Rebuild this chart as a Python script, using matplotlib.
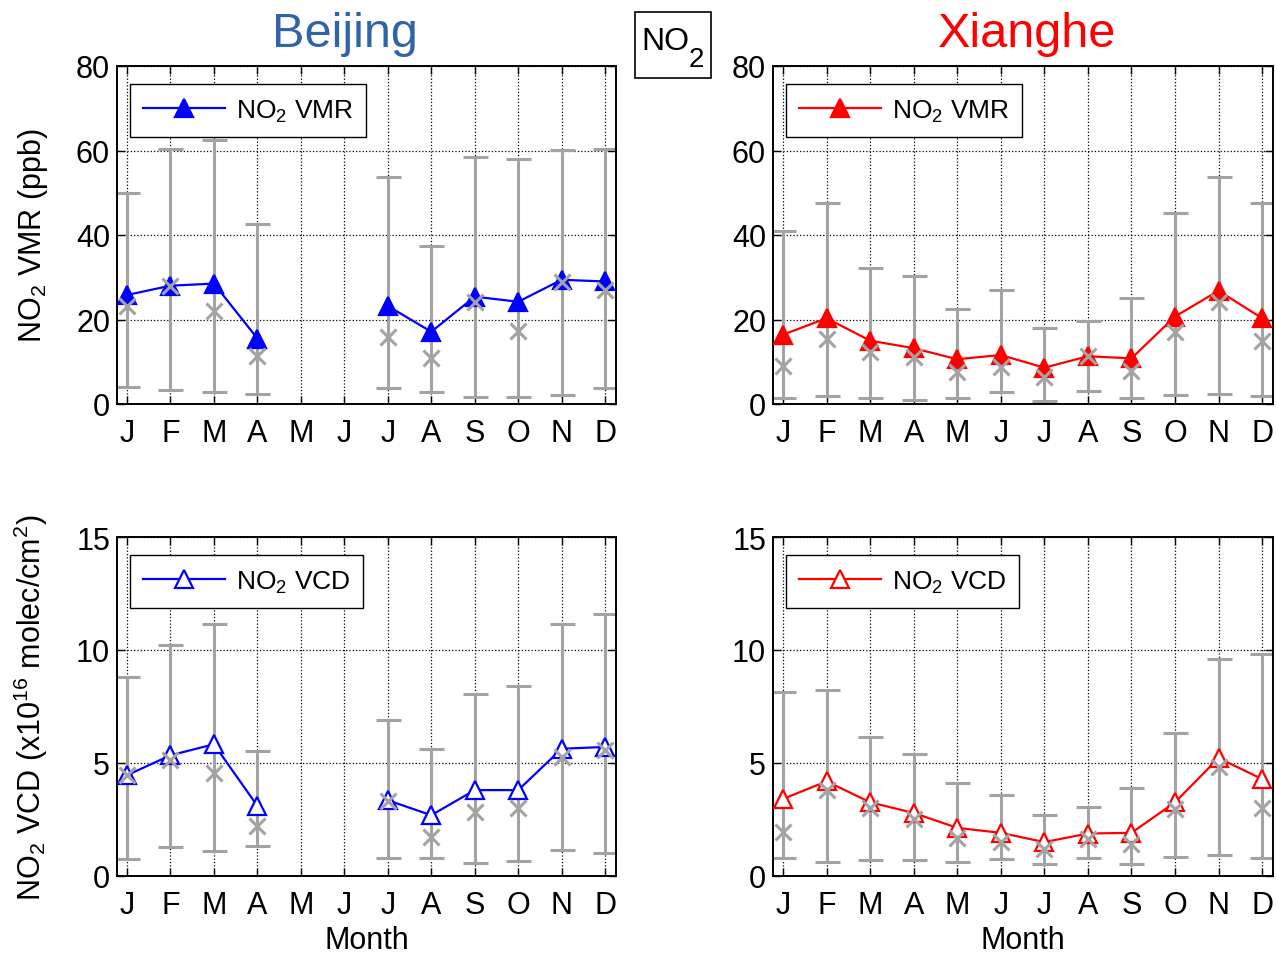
import matplotlib.pyplot as plt
from matplotlib.patches import Rectangle
import numpy as np

plt.rcParams['font.family'] = ['Liberation Sans', 'DejaVu Sans']
plt.rcParams['mathtext.fontset'] = 'custom'
plt.rcParams['mathtext.rm'] = 'Liberation Sans'

months = np.arange(1, 13)
month_labels = ['J', 'F', 'M', 'A', 'M', 'J', 'J', 'A', 'S', 'O', 'N', 'D']
nan = np.nan

# Beijing NO2 VMR (ppb)
bj_vmr = [25.8, 28.0, 28.5, 15.5, nan, nan, 23.2, 17.1, 25.4, 24.2, 29.4, 29.0]
bj_vmr_med = [23.2, 28.0, 21.9, 11.3, nan, nan, 15.9, 10.9, 24.2, 17.3, 28.8, 27.0]
bj_vmr_hi = [49.9, 60.4, 62.6, 42.7, nan, nan, 53.7, 37.5, 58.4, 57.9, 60.2, 60.4]
bj_vmr_lo = [4.1, 3.4, 2.9, 2.4, nan, nan, 3.8, 2.9, 1.7, 1.7, 2.1, 3.8]

# Xianghe NO2 VMR (ppb)
xh_vmr = [16.4, 20.3, 15.0, 13.2, 10.6, 11.6, 8.6, 11.3, 10.8, 20.7, 26.8, 20.3]
xh_vmr_med = [9.1, 15.4, 12.2, 11.2, 7.5, 8.7, 6.3, 11.4, 7.9, 17.0, 24.1, 14.8]
xh_vmr_hi = [40.9, 47.6, 32.3, 30.2, 22.6, 27.0, 18.1, 19.6, 25.1, 45.1, 53.7, 47.6]
xh_vmr_lo = [1.4, 1.8, 1.4, 1.0, 1.4, 2.8, 0.8, 3.0, 1.4, 2.1, 2.4, 1.8]

# Beijing NO2 VCD (x1e16 molec/cm2)
bj_vcd = [4.46, 5.34, 5.83, 3.10, nan, nan, 3.35, 2.69, 3.80, 3.80, 5.63, 5.71]
bj_vcd_med = [4.46, 5.15, 4.57, 2.21, nan, nan, 3.32, 1.74, 2.81, 3.02, 5.27, 5.56]
bj_vcd_hi = [8.80, 10.24, 11.15, 5.52, nan, nan, 6.91, 5.60, 8.06, 8.40, 11.15, 11.59]
bj_vcd_lo = [0.75, 1.27, 1.10, 1.32, nan, nan, 0.81, 0.81, 0.59, 0.66, 1.15, 1.00]

# Xianghe NO2 VCD (x1e16 molec/cm2)
xh_vcd = [3.41, 4.19, 3.26, 2.79, 2.13, 1.91, 1.50, 1.88, 1.91, 3.26, 5.22, 4.29]
xh_vcd_med = [1.94, 3.79, 3.01, 2.53, 1.69, 1.50, 1.18, 1.65, 1.40, 2.97, 4.82, 3.01]
xh_vcd_hi = [8.13, 8.23, 6.14, 5.41, 4.12, 3.60, 2.72, 3.06, 3.90, 6.32, 9.60, 9.82]
xh_vcd_lo = [0.78, 0.62, 0.69, 0.69, 0.62, 0.74, 0.54, 0.78, 0.54, 0.84, 0.91, 0.78]

gray = '#a3a3a3'

fig = plt.figure(figsize=(12.76, 9.54), dpi=100)
W, H = 1276, 954


def make_ax(x0, x1, y0, y1):
    return fig.add_axes([x0 / W, 1 - y1 / H, (x1 - x0) / W, (y1 - y0) / H])


def panel(ax, mean, med, lo, hi, color, filled, label, ymax, yticks):
    mean = np.array(mean); med = np.array(med)
    lo = np.array(lo); hi = np.array(hi)
    ok = ~np.isnan(mean)
    x = months[ok]
    # spread bars from lower/upper bounds
    ax.errorbar(x, med[ok], yerr=[med[ok] - lo[ok], hi[ok] - med[ok]], fmt='none',
                ecolor=gray, elinewidth=2.2, capsize=9, capthick=2.2, zorder=2)
    ax.plot(months, mean, '-^', color=color, lw=1.6, ms=13,
            mfc=color if filled else 'white', mec=color, mew=1.6,
            label=label, zorder=3)
    ax.plot(x, med[ok], 'x', color=gray, ms=12, mew=2.2, zorder=4)
    ax.set_xlim(0.77, 12.25)
    ax.set_ylim(0, ymax)
    ax.set_yticks(yticks)
    ax.set_xticks(months)
    ax.set_xticklabels(month_labels)
    ax.grid(True, color='black', linestyle=':', linewidth=0.9)
    ax.tick_params(direction='in', top=True, right=True, labelsize=22,
                   length=6, width=1)
    ax.tick_params(axis='x', pad=10)
    ax.tick_params(axis='y', pad=5)
    for s in ax.spines.values():
        s.set_linewidth(1.4)
    leg = ax.legend(loc='upper left', bbox_to_anchor=(0.026, 0.947),
                    borderaxespad=0, fontsize=19, handlelength=3.1,
                    handletextpad=0.4, fancybox=False, framealpha=1,
                    edgecolor='black', borderpad=0.5)
    leg.get_frame().set_linewidth(1.0)


ax1 = make_ax(117, 616, 67, 405)
ax2 = make_ax(773, 1273, 67, 405)
ax3 = make_ax(117, 616, 538, 877)
ax4 = make_ax(773, 1273, 538, 877)

panel(ax1, bj_vmr, bj_vmr_med, bj_vmr_lo, bj_vmr_hi, 'blue', True,
      'NO$_2$ VMR', 80, [0, 20, 40, 60, 80])
panel(ax2, xh_vmr, xh_vmr_med, xh_vmr_lo, xh_vmr_hi, 'red', True,
      'NO$_2$ VMR', 80, [0, 20, 40, 60, 80])
panel(ax3, bj_vcd, bj_vcd_med, bj_vcd_lo, bj_vcd_hi, 'blue', False,
      'NO$_2$ VCD', 15, [0, 5, 10, 15])
panel(ax4, xh_vcd, xh_vcd_med, xh_vcd_lo, xh_vcd_hi, 'red', False,
      'NO$_2$ VCD', 15, [0, 5, 10, 15])

ax1.set_ylabel('NO$_2$ VMR (ppb)', fontsize=22)
ax3.set_ylabel('NO$_2$ VCD (x10$^{16}$ molec/cm$^2$)', fontsize=22)
ax1.yaxis.set_label_coords(-0.134, 0.5)
ax3.yaxis.set_label_coords(-0.134, 0.5)
for ax in (ax3, ax4):
    ax.set_xlabel('Month', fontsize=22)
    ax.xaxis.set_label_coords(0.5, -0.145)

fig.text(345 / W, 1 - 47 / H, 'Beijing', color='#2f65a8', fontsize=35,
         ha='center', va='baseline')
fig.text(1027 / W, 1 - 47 / H, 'Xianghe', color='red', fontsize=35,
         ha='center', va='baseline')

# boxed species tag between the two columns
fig.add_artist(Rectangle((635 / W, 1 - 79 / H), 76 / W, 66 / H,
                         transform=fig.transFigure, fill=False,
                         edgecolor='black', linewidth=1.2))
fig.text(641 / W, 1 - 50 / H, 'NO', fontsize=23, ha='left', va='baseline')
fig.text(689 / W, 1 - 67 / H, '2', fontsize=20, ha='left', va='baseline')

fig.savefig('out.png', dpi=100)
